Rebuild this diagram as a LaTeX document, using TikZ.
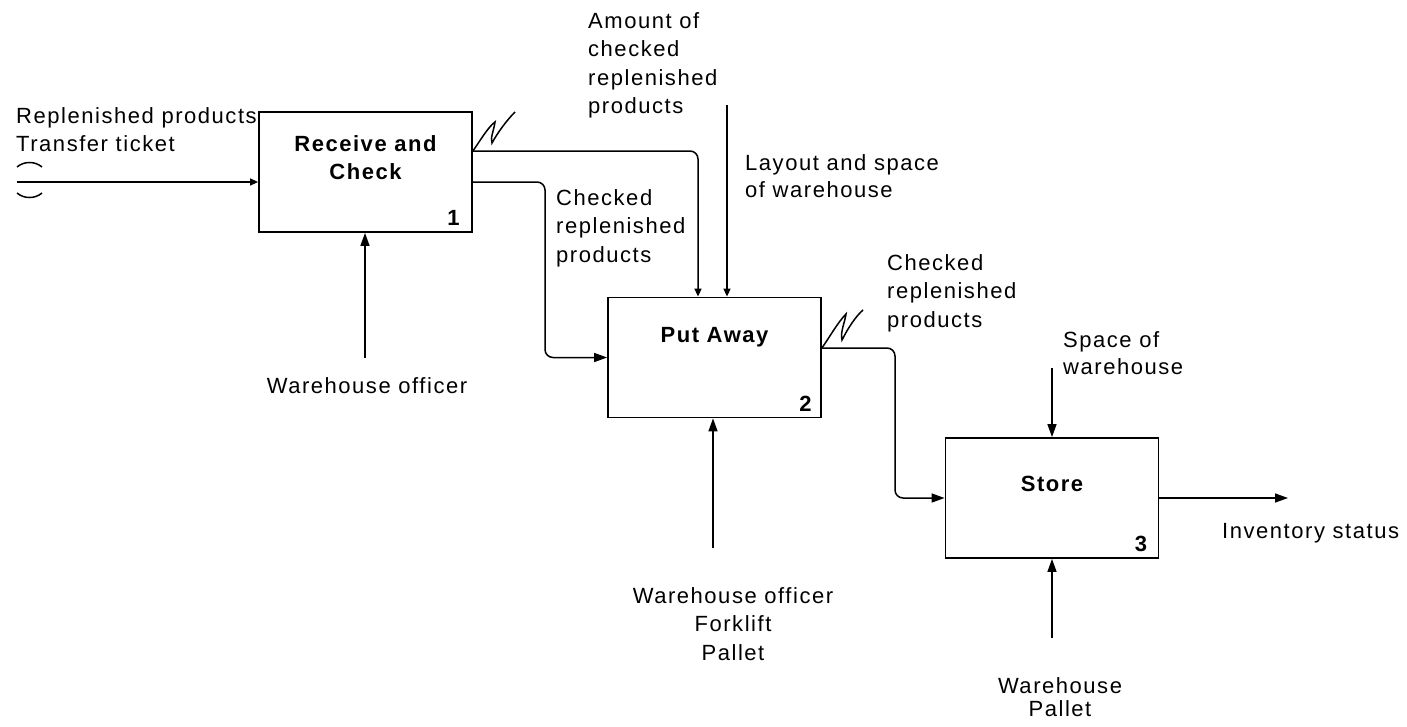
\documentclass[tikz,border=0pt]{standalone}
\usepackage{fontspec}
\setmainfont[LetterSpace=7]{Liberation Sans}
\usetikzlibrary{arrows.meta}
\tikzset{
  idef_box/.style = {draw=black, line width=1.8pt, minimum width=213pt, minimum height=120pt, inner sep=0pt},
  idef_title/.style = {align=center, inner sep=0pt, anchor=north, font=\fontsize{22}{28}\selectfont\bfseries},
  idef_num/.style = {inner sep=0pt, anchor=south east, font=\fontsize{22}{28}\selectfont\bfseries},
  lbl_l/.style = {align=left, inner sep=0pt, anchor=north west, font=\fontsize{22}{28.5}\selectfont},
  lbl_c/.style = {align=center, inner sep=0pt, anchor=north, font=\fontsize{22}{28.5}\selectfont},
  idef_line/.style = {line width=1.5pt},
  idef_arr/.style = {idef_line, -{Triangle[length=13pt,width=9pt]}},
  idef_arr_s/.style = {idef_line, -{Triangle[length=8pt,width=7pt]}}
}
\begin{document}
\begin{tikzpicture}[x=1pt, y=-1pt]
	\useasboundingbox (0,0) rectangle (1407,726);
	% activities
	\node [idef_box, label={[idef_title, yshift=-24pt]north:Receive and\\Check},
		label={[idef_num, xshift=-13pt, yshift=7pt]south east:1}] (b1) at (365.5,172) {};
	\node [idef_box, label={[idef_title, yshift=-31pt]north:Put Away},
		label={[idef_num, xshift=-10pt, yshift=7pt]south east:2}] (b2) at (714.5,357.5) {};
	\node [idef_box, label={[idef_title, yshift=-39pt]north:Store},
		label={[idef_num, xshift=-12pt, yshift=7pt]south east:3}] (b3) at (1052,498) {};

	% input of 1, tunnelled
	\coordinate (in1) at (17,182);
	\draw [idef_arr_s] (in1) -- (in1 -| b1.west);
	\draw [idef_line] (17,167) .. controls (24,161) and (35,161) .. (42,167);
	\draw [idef_line] (17,193) .. controls (24,199) and (35,199) .. (42,193);
	\node [lbl_l] (l_in) at (16,107) {Replenished products\\Transfer ticket};

	% outputs of 1
	\coordinate (c1) at (698,151);
	\draw [idef_arr_s, rounded corners=8pt] (b1.east |- c1) -| (b2.north -| c1);
	\draw [idef_line] (b1.east |- c1) .. controls (480,141) and (488,127) .. (495,122) .. controls (494,130) and (490,138) .. (492,143) .. controls (498,132) and (507,120) .. (515,112);
	\node [lbl_l] (l_amt) at (588,12) {Amount of\\checked\\replenished\\products};

	\coordinate (c2) at (545,182);
	\draw [idef_arr, rounded corners=8pt] (b1.east |- c2) -| (b2.west -| c2) -- (b2.west);
	\node [lbl_l] (l_chk1) at (556,189) {Checked\\replenished\\products};

	% controls and mechanisms
	\coordinate (ctl2) at (727,105);
	\draw [idef_arr_s] (ctl2) -- (ctl2 |- b2.north);
	\node [lbl_l, font=\fontsize{22}{27}\selectfont] (l_lay) at (745,154) {Layout and space\\of warehouse};

	\coordinate (m1) at (365,358);
	\draw [idef_arr] (m1) -- (m1 |- b1.south);
	\node [lbl_c] (l_m1) at (367,377) {Warehouse officer};

	\coordinate (m2) at (713,548);
	\draw [idef_arr] (m2) -- (m2 |- b2.south);
	\node [lbl_c] (l_m2) at (733,587) {Warehouse officer\\Forklift\\Pallet};

	% output of 2
	\coordinate (c3) at (895,348);
	\draw [idef_arr, rounded corners=8pt] (b2.east |- c3) -| (b3.west -| c3) -- (b3.west);
	\draw [idef_line] (b2.east |- c3) .. controls (829,338) and (838,322) .. (846,314) .. controls (845,322) and (840,332) .. (842,340) .. controls (848,328) and (856,316) .. (863,310);
	\node [lbl_l] (l_chk2) at (887,254) {Checked\\replenished\\products};

	\coordinate (ctl3) at (1052,368);
	\draw [idef_arr] (ctl3) -- (b3.north);
	\node [lbl_l, font=\fontsize{22}{27}\selectfont] (l_spc) at (1063,331) {Space of\\warehouse};

	\coordinate (m3) at (1052,638);
	\draw [idef_arr] (m3) -- (b3.south);
	\node [lbl_c, font=\fontsize{22}{23}\selectfont] (l_m3) at (1060,677) {Warehouse\\Pallet};

	% output of 3
	\coordinate (out3) at (1288,498);
	\draw [idef_arr] (b3.east) -- (out3);
	\node [lbl_l] (l_inv) at (1222,523) {Inventory status};
\end{tikzpicture}
\end{document}
